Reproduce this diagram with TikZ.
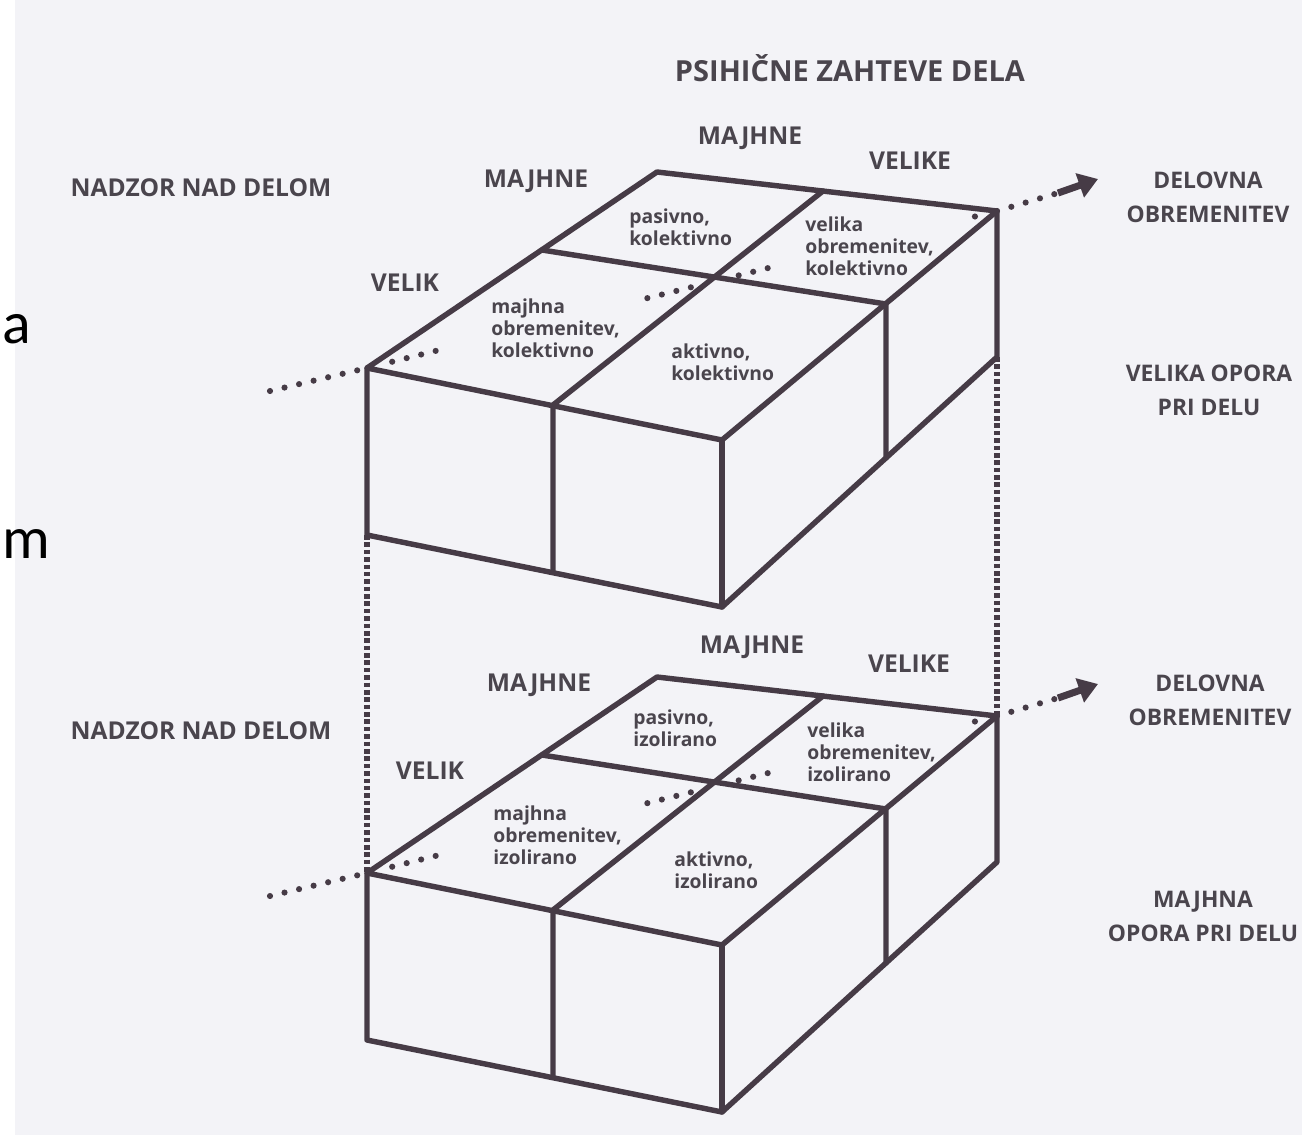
\documentclass[tikz,border=0pt]{standalone}
\usepackage{fontspec}
\setmainfont{Open Sans}
\newfontfamily\slidefont{Carlito}
\usetikzlibrary{arrows.meta, calc}
\definecolor{ink}{HTML}{463B46}
\definecolor{labelgray}{HTML}{4A454D}
\definecolor{paper}{HTML}{F3F3F7}

\begin{document}
\begin{tikzpicture}[x=0.02cm, y=-0.02cm,
    edge/.style={draw=ink, line width=3.1pt, line join=round, line cap=round},
    axisdots/.style={draw=ink, line width=3.5pt, line cap=round, dash pattern=on 0pt off 8.5pt},
    linkdots/.style={draw=ink, line width=3.1pt, dash pattern=on 2.6pt off 1.6pt},
    pointer/.style={draw=ink, line width=4pt, -{Triangle[length=11pt, width=14pt]}},
    axislbl/.style={text=labelgray, font=\bfseries\fontsize{14}{19.4}\selectfont, align=center, inner sep=0pt},
    sidelbl/.style={axislbl, font=\bfseries\fontsize{13}{19.4}\selectfont},
    celltxt/.style={text=labelgray, font=\bfseries\fontsize{11}{12.6}\selectfont, align=left, anchor=west, inner sep=0pt},
    slidetxt/.style={font=\slidefont\fontsize{34}{34}\selectfont, anchor=base west, inner sep=0pt},
  ]
  \useasboundingbox (0,0) rectangle (1302,1134);
  \fill[white] (-5,-5) rectangle (1310,1140);
  \fill[paper] (15,-5) rectangle (1310,1140);

  \node[slidetxt] (slideA) at (2,343) {a};
  \node[slidetxt] (slideM) at (2,558) {m};

  % corners of both boxes, the lower one 505 further down
  \foreach \dy/\bx in {0/up,505/lo}{
    \coordinate (\bx B1) at (657,172+\dy);
    \coordinate (\bx B2) at (997,211+\dy);
    \coordinate (\bx F1) at (367,368+\dy);
    \coordinate (\bx F2) at (722,440+\dy);
    \coordinate (\bx L1) at (367,535+\dy);
    \coordinate (\bx L2) at (722,607+\dy);
    \coordinate (\bx R2) at (997,357+\dy);
    \coordinate (\bx T1) at (823,191+\dy);
    \coordinate (\bx T2) at (553,405+\dy);
    \coordinate (\bx T3) at (553,572+\dy);
    \coordinate (\bx S1) at (542,250+\dy);
    \coordinate (\bx S2) at (886,304+\dy);
    \coordinate (\bx S3) at (886,458+\dy);
    \coordinate (\bx AL) at (270,391+\dy);
    \coordinate (\bx AS) at (1058,193+\dy);
    \coordinate (\bx AT) at (1098,179+\dy);
  }

  \draw[linkdots] (upL1) -- (loF1);
  \draw[linkdots] (upR2) -- (loB2);

  \foreach \bx in {up,lo}{
    \draw[axisdots] (\bx AL) -- (\bx F1);
    \draw[axisdots] ($(\bx F1)!0.04!(\bx B2)$) -- ($(\bx F1)!0.125!(\bx B2)$);
    \draw[axisdots] ($(\bx F1)!0.445!(\bx B2)$) -- ($(\bx F1)!0.53!(\bx B2)$);
    \draw[axisdots] ($(\bx F1)!0.59!(\bx B2)$) -- ($(\bx F1)!0.655!(\bx B2)$);
    \fill[ink] ($(\bx F1)!0.965!(\bx B2)$) circle (1.75pt);
    \draw[axisdots] (\bx B2) -- (\bx AS);
    \draw[pointer] (\bx AS) -- (\bx AT);

    \draw[edge] (\bx F1) -- (\bx B1) -- (\bx B2) -- (\bx F2) -- cycle;
    \draw[edge] (\bx F1) -- (\bx L1) -- (\bx L2) -- (\bx R2) -- (\bx B2);
    \draw[edge] (\bx F2) -- (\bx L2);
    \draw[edge] (\bx T1) -- (\bx T2) -- (\bx T3);
    \draw[edge] (\bx S1) -- (\bx S2) -- (\bx S3);
  }

  \node[axislbl, font=\bfseries\fontsize{16.5}{20}\selectfont] (title) at (850,68) {PSIHIČNE ZAHTEVE DELA};

  \node[axislbl] (upDemLow) at (750,138) {MAJHNE};
  \node[axislbl] (upDemHigh) at (910,161) {VELIKE};
  \node[axislbl] (upCtrlLow) at (536,181) {MAJHNE};
  \node[axislbl] (upCtrl) at (201,188) {NADZOR NAD DELOM};
  \node[axislbl] (upCtrlHigh) at (405,283) {VELIK};
  \node[sidelbl] (upDemand) at (1208,197) {DELOVNA\\OBREMENITEV};
  \node[sidelbl] (upSupport) at (1209,390) {VELIKA OPORA\\PRI DELU};

  \node[celltxt] (upPassive) at (629,227) {pasivno,\\kolektivno};
  \node[celltxt] (upStrain) at (805,246) {velika\\obremenitev,\\kolektivno};
  \node[celltxt] (upLowStrain) at (491,328) {majhna\\obremenitev,\\kolektivno};
  \node[celltxt] (upActive) at (671,362) {aktivno,\\kolektivno};

  \node[axislbl] (loDemLow) at (752,647) {MAJHNE};
  \node[axislbl] (loDemHigh) at (909,664) {VELIKE};
  \node[axislbl] (loCtrlLow) at (539,685) {MAJHNE};
  \node[axislbl] (loCtrl) at (201,731) {NADZOR NAD DELOM};
  \node[axislbl] (loCtrlHigh) at (430,771) {VELIK};
  \node[sidelbl] (loDemand) at (1210,700) {DELOVNA\\OBREMENITEV};
  \node[sidelbl] (loSupport) at (1203,916) {MAJHNA\\OPORA PRI DELU};

  \node[celltxt] (loPassive) at (633,728) {pasivno,\\izolirano};
  \node[celltxt] (loStrain) at (807,752) {velika\\obremenitev,\\izolirano};
  \node[celltxt] (loLowStrain) at (493,835) {majhna\\obremenitev,\\izolirano};
  \node[celltxt] (loActive) at (674,870) {aktivno,\\izolirano};
\end{tikzpicture}
\end{document}
